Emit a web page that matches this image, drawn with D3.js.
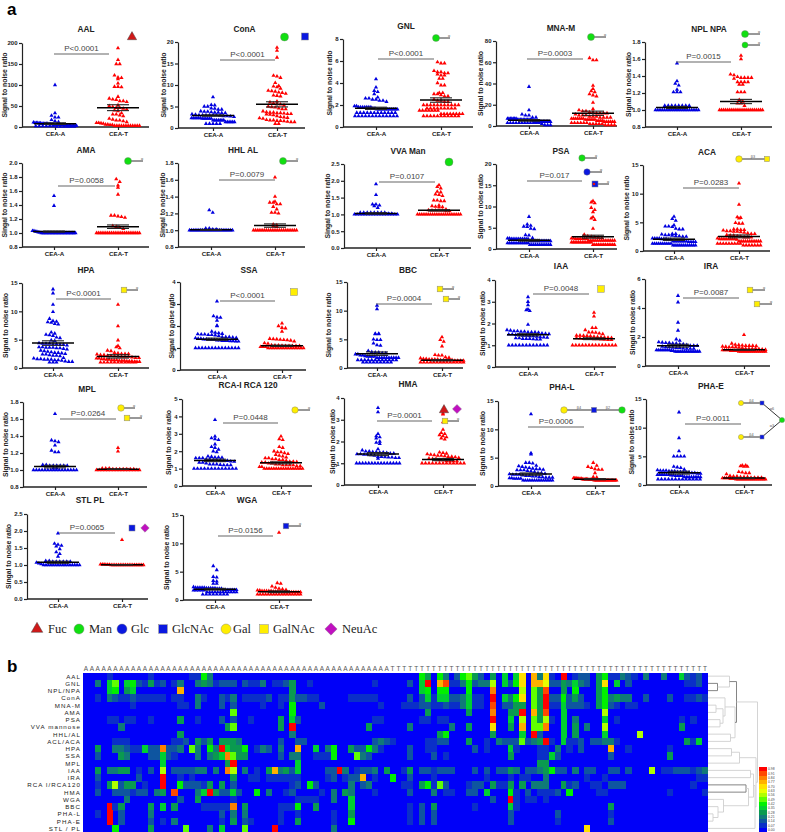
<!DOCTYPE html>
<html><head><meta charset="utf-8">
<script src="https://cdn.jsdelivr.net/npm/d3@7"></script>
<style>html,body{margin:0;padding:0;background:#fff}svg{display:block}text{font-family:"Liberation Sans",Arial,sans-serif}</style>
</head><body><svg id="c" width="785" height="832"></svg>
<script>
// ---------- swarm values ----------
const groups=['CEA-A','CEA-T'];
const aalA=[100,33,27,23,23,17,14,12,11,10,10,10,9,9,8,8,8,8,8,7,7,7,6,6,6,5,5,5,5,5,4,4,4,4,4,3,3,3,3,2,2,2,2,2,2,1,1,1,1,1,1];
const aalT=[188,160,150,150,123,118,117,114,104,96,96,95,72,68,66,65,62,62,60,52,50,48,46,46,44,42,40,38,33,30,30,28,26,20,18,16,16,14,12,10,10,9,8,6,6,5,5,3,3,3,3,3,3,3,3,3,3,3,3];
const conA=[7.2,5.4,5.3,5,5,4.6,4.5,4.3,4.3,3.9,3.8,3.8,3.7,3.6,3.6,3.5,3.5,3.2,3.1,3,3,3,3,3,3,2.9,2.8,2.8,2.7,2.6,2.3,2.3,2.3,2.3,2.3,2.3,2.2,2.2,2.2,2.2,2.2,2.2,1.8,1.8,1.8,1.8,1.8,1.8,1.8,1.4,1.4,1.4,1.4,1.4,1.4,1,1,1,1,1];
const conT=[18.7,18,16.4,12.2,12,11.7,10.5,9.8,9.7,9.5,9.2,8.7,8.6,8.5,8.3,8.2,8,7.6,7.5,7.4,6.2,6,5.8,5.6,5.5,5.3,5,4.9,4.8,4.6,4.4,4.4,3.9,3.7,3.6,3.6,3.5,3.5,3.4,3.3,3.3,3.2,3.1,3,2.8,2.6,2.5,2.4,2.3,2.2,1.9,1.8,1.8,1.7,1.7,1.6,1.5,1.4,1.4,1,1];
const gnlA=[4.35,3.6,3.3,3.2,3,2.7,2.6,2.6,2.5,2.5,2.4,2.4,2.3,1.9,1.9,1.8,1.8,1.8,1.8,1.8,1.8,1.8,1.7,1.7,1.6,1.6,1.6,1.6,1.6,1.6,1.6,1.6,1.6,1.6,1.6,1.3,1.3,1.3,1.3,1.3,1.3,1.3,1.3,1.3,1.3,1.3,1.3,1,1,1,1,1,1,1,1,1,1,1,1,1];
const gnlT=[5.9,5.8,5.8,5.1,5,5,4.9,4.9,4.8,4.7,4.7,4.4,4.4,4,3.8,3.8,3.1,3.1,3,3,2.9,2.8,2.8,2.5,2.4,2.4,2.3,2.3,2,2,2,2,2,2,2,2,2,2,2,1.7,1.7,1.7,1.7,1.7,1.7,1.7,1.7,1.7,1.5,1.5,1.5,1.5,1.5,1.5,1.5,1.2,1.2,1.2,1.2,1.2,1.2,1.2,1.2,1,1,1,1,1,1,1,1,1,1,1];
const mnaA=[37,15,11,10,10,8,8,7,7,7,7,7,7,7,6,6,6,6,6,6,6,6,6,6,6,5,4,4,4,4,4,4,4,4,4,4,4,4,3,3,3,3,3,3,3,3,3,3,3,3,2,1,1,1];
const mnaT=[64,62,62,38,35,33,32,30,29,28,22,16,15,14,14,13,13,12,12,12,12,11,10,10,10,9,9,9,8,8,8,8,7,7,7,7,7,7,7,6,6,6,6,6,6,5,5,5,5,4,4,4,4,4,4,3,3,3,3,3,3,2,2,2,2,2,1,1,1,1];
const npaA=[1.55,1.34,1.31,1.29,1.24,1.21,1.21,1.21,1.05,1.05,1.05,1.05,1.05,1.05,1.05,1.05,1.02,1.02,1.02,1.02,1,1,1,1,1,1,1,1,1,1,1,1,1,1,1,1,1,1,1,1];
const npaT=[1.64,1.6,1.42,1.41,1.39,1.38,1.38,1.38,1.38,1.37,1.33,1.33,1.33,1.33,1.21,1.21,1.21,1.3,1.3,1.12,1.1,1.08,1.08,1.05,1,1,1,1,1,1,1,1,1,1,1,1,1,1,1,1,1,1,1,1,1,1,1];
const amaA=[1.53,1.39,1.03,1.03,1.02,1.02,1.01,1.01,1,1,1,1,1,1,1,1,1,1,1,1,1,1,1,1,1,1,1,1,1,1,1,1];
const amaT=[1.77,1.73,1.68,1.65,1.55,1.25,1.25,1.24,1.23,1.22,1.1,1.09,1.08,1.06,1,1,1,1,1,1,1,1,1,1,1,1,1,1,1,1,1,1,1,1,1,1,1,1];
const hhlA=[1.24,1.21,1.02,1.02,1.01,1.01,1,1,1,1,1,1,1,1,1,1,1,1,1,1,1,1,1,1,1,1,1,1,1,1];
const hhlT=[1.63,1.4,1.34,1.33,1.33,1.31,1.31,1.28,1.25,1.21,1.21,1.2,1.07,1.06,1.05,1.04,1,1,1,1,1,1,1,1,1,1,1,1,1,1,1,1,1,1,1,1,1];
const vvaA=[1.9,1.58,1.3,1.3,1.27,1.25,1.2,1.05,1.05,1.05,1.05,1.05,1.05,1.05,1.05,1.02,1.02,1,1,1,1,1,1,1,1,1,1,1,1,1,1,1,1,1];
const vvaT=[1.87,1.82,1.78,1.68,1.66,1.6,1.58,1.55,1.42,1.42,1.4,1.4,1.25,1.27,1.23,1.22,1.22,1.15,1.13,1.12,1.12,1.12,1.12,1.1,1.1,1,1,1,1,1,1,1,1,1,1,1,1,1,1,1,1,1,1,1,1,1];
const psaA=[7.6,5.8,5.5,5.3,5.2,4.8,4.7,3.3,3.2,2.6,2.5,2.5,2.4,2.4,2.4,2.4,2.4,2.4,2.4,2.4,2.4,2.4,1.9,1.9,1.9,1.9,1.9,1.9,1.9,1.9,1.9,1.9,1.9,1.9,1.4,1.4,1.4,1.4,1.4,1.4,1.4,1.4,1.4,1.4,1.4,1.4,1,1,1,1,1,1,1,1,1,1,1,1];
const psaT=[11.3,11,10.8,9.7,9.2,8.7,7.5,7.2,6.9,4.8,3.4,3,2.9,2.8,2.7,2.6,2.5,2.5,2.4,2.4,2.4,2.4,2.4,2.4,2,2,2,2,2,2,2,2,2,2,2,2,2,1.6,1.6,1.6,1.6,1.6,1.6,1.6,1.6,1.6,1.6,1.6,1.6,1,1,1,1,1,1,1,1,1,1,1,1,1];
const acaA=[6,5.6,5.3,4.5,4.3,4.3,4.2,3.9,3.8,3.8,3,3,2.9,2.8,2.8,2.7,2.6,2.6,2.5,2.5,2.2,2.2,2.2,2.2,2.1,2.1,2.1,2,2,1.7,1.7,1.7,1.7,1.7,1.7,1.7,1.6,1.6,1.6,1.6,1.3,1.3,1.3,1.3,1.3,1.3,1.3,1.3,1.3,1.3,1,1,1,1,1,1,1,1,1,1,1,1];
const acaT=[11.8,8.1,5.9,5.8,5.7,4.9,4.8,4.8,3.8,3.8,3.7,3.7,3.6,3.5,3.5,3.4,3.4,3.3,3.2,3.1,3,3,2.8,2.7,2.7,2.6,2.5,2.4,2.4,2.4,2.2,2.1,2.1,2.1,2.1,2.1,2.1,2.1,2.1,2,1.7,1.7,1.7,1.7,1.7,1.7,1.7,1.7,1.7,1.7,1.7,1.3,1.3,1.3,1.3,1.3,1.3,1.3,1.3,1.3,1,1,1,1,1,1,1];
const hpaA=[13.9,13.2,11.2,9.9,8.7,8.3,8.2,8.1,8,7.8,7.7,6.3,6.1,5.9,5.8,5.7,5.4,5.3,4.9,4.8,4.4,4.3,4.3,4.3,4.2,4.2,4.1,4.1,4,3.7,3.7,3.6,3.6,3.6,3.5,3.5,3.4,3.3,3.1,3,2.9,2.8,2.7,2.7,2.6,2.5,2.4,2.4,2.3,2.2,2.2,2.1,1.8,1.7,1.6,1.6,1.5,1.5,1.5,1.4,1.4,1.3,1.2,1.1,1.1,1,1,1];
const hpaT=[11.2,7.4,4.9,3.9,3.7,3.5,3.1,3,2.7,2.6,2.5,2.5,2.5,2.4,2.3,2.3,2.2,2.2,2.1,2.1,2,2,2,1.9,1.8,1.8,1.7,1.7,1.6,1.6,1.5,1.5,1.4,1.4,1.4,1.3,1.3,1.3,1.2,1.2,1.2,1.1,1.1,1.1,1,1,1,1,1,1,1,1,1,1,1];
const ssaA=[3.12,2.45,2.4,2.38,2.25,2.02,2,1.75,1.7,1.68,1.65,1.63,1.62,1.62,1.6,1.6,1.58,1.55,1.5,1.5,1.5,1.48,1.46,1.45,1.43,1.43,1.4,1.4,1.38,1.37,1.37,1.35,1.35,1.33,1.33,1.33,1.32,1.32,1.3,1.3,1,1,1,1,1,1,1,1,1,1,1,1,1,1];
const ssaT=[2.12,2,1.92,1.9,1.75,1.42,1.41,1.4,1.38,1.37,1.36,1.34,1.3,1.22,1.2,1.13,1.12,1.12,1.11,1.1,1.1,1.1,1.1,1.1,1.05,1.05,1.05,1,1,1,1,1,1,1,1,1,1,1,1,1,1,1];
const bbcA=[10.9,10.3,6,6,5.9,5.9,5,4.9,4.9,4.3,4,3.9,3,2.8,2.7,2.7,2.6,2.6,2.4,2.4,2.2,2.2,2.1,2,2,2,2,1.8,1.8,1.8,1.8,1.8,1.8,1.8,1.8,1.8,1.8,1.4,1.4,1.4,1.4,1.4,1.4,1.4,1.4,1.4,1.4,1.4,1.4,1,1,1,1,1,1,1,1,1];
const bbcT=[5.4,4.9,4.6,3.8,2.3,2.2,2.2,1.9,1.8,1.7,1.6,1.6,1.5,1.5,1.5,1.5,1.4,1.4,1.4,1.4,1.4,1.3,1.3,1.3,1.3,1,1,1,1,1,1,1,1,1,1,1,1,1,1];
const iaaA=[3.22,3,2.85,2.65,2.62,2.58,1.95,1.7,1.68,1.65,1.65,1.63,1.63,1.6,1.6,1.6,1.58,1.55,1.53,1.52,1.5,1.5,1.48,1.48,1.45,1.45,1.42,1.42,1.4,1.38,1.37,1.35,1.33,1.33,1.3,1.3,1.3,1.28,1.27,1.27,1,1,1,1,1,1,1,1,1,1,1,1];
const iaaT=[2.5,2.33,1.8,1.8,1.7,1.6,1.6,1.58,1.55,1.52,1.45,1.45,1.44,1.43,1.42,1.4,1.38,1.37,1.36,1.35,1.34,1.33,1.32,1.3,1.3,1.3,1.28,1.28,1.27,1.26,1.25,1.25,1,1,1,1,1,1,1,1,1,1,1,1,1,1];
const iraA=[4.85,4.4,3,2.45,1.85,1.75,1.65,1.62,1.6,1.6,1.55,1.55,1.5,1.5,1.45,1.4,1.4,1.4,1.35,1.3,1.3,1.28,1.25,1.25,1.22,1.2,1.2,1.2,1.1,1.1,1.1,1.1,1.1,1.1,1.1,1.1,1.05,1.05,1,1,1,1,1,1,1,1,1,1,1,1,1,1];
const iraT=[2.15,1.55,1.48,1.45,1.42,1.4,1.4,1.4,1.38,1.35,1.33,1.3,1.3,1.3,1.28,1.25,1.2,1.2,1.2,1.2,1.18,1.15,1.12,1.1,1.1,1.1,1.1,1.05,1.05,1.05,1.05,1,1,1,1,1,1,1,1,1,1,1,1,1,1];
const mplA=[1.66,1.35,1.34,1.33,1.29,1.23,1.21,1.21,1.06,1.06,1.05,1.05,1.05,1.05,1.05,1.05,1.02,1.02,1,1,1,1,1,1,1,1,1,1,1,1,1,1,1,1];
const mplT=[1.26,1.22,1.02,1.02,1.02,1.01,1.01,1.01,1.01,1.01,1.01,1.01,1,1,1,1,1,1,1,1,1,1,1,1,1,1,1,1];
const rcaA=[3.8,2.85,2.75,2.7,2.65,2.4,2.25,2.2,2.1,2,1.95,1.7,1.68,1.65,1.65,1.63,1.6,1.6,1.6,1.55,1.55,1.5,1.5,1.48,1.45,1.45,1.42,1.4,1.35,1.35,1.3,1.25,1.25,1.25,1.22,1.2,1.2,1.2,1,1,1,1,1,1,1,1,1,1,1,1,1];
const rcaT=[2.85,2.7,2.65,2.25,2.2,2,1.95,1.95,1.9,1.85,1.8,1.75,1.7,1.65,1.6,1.6,1.55,1.55,1.5,1.5,1.45,1.4,1.4,1.38,1.35,1.35,1.3,1.3,1.25,1.25,1.2,1.2,1.2,1.2,1.15,1.15,1.1,1.1,1,1,1,1,1,1,1,1,1,1,1,1,1,1,1,1,1];
const hmaA=[3.55,3.35,2.35,2.25,2.2,2.15,2,1.95,1.9,1.65,1.6,1.55,1.55,1.52,1.52,1.5,1.5,1.48,1.45,1.45,1.42,1.42,1.4,1.4,1.38,1.35,1.3,1.3,1.28,1.27,1.27,1.25,1.25,1.22,1,1,1,1,1,1,1,1,1,1,1,1,1,1,1];
const hmaT=[3.3,3.25,2.9,2.55,2.4,2.35,2.3,2.25,2.2,2.15,2.1,1.5,1.48,1.45,1.42,1.4,1.38,1.35,1.35,1.33,1.3,1.3,1.28,1.25,1.22,1.2,1.2,1.15,1.15,1.1,1.1,1.1,1.1,1,1,1,1,1,1,1,1,1,1,1,1,1];
const phlA=[12.7,5.8,5.6,4.1,4.1,4,3.6,3.5,3.4,3.3,3.2,3.1,3,3,2.9,2.8,2.8,2.8,2.7,2.6,2.5,2.3,2.3,2.2,2.1,2,2,2,1.9,1.8,1.8,1.7,1.7,1.6,1.6,1.5,1.5,1.5,1.4,1.4,1.3,1.3,1.3,1.3,1,1,1,1,1,1,1,1,1,1,1,1,1,1];
const phlT=[4.1,3.6,3.4,3.2,3,2.9,2.9,2.3,1.6,1.5,1.4,1.4,1.4,1.3,1.3,1.3,1.3,1.2,1.2,1.2,1.2,1.2,1.1,1.1,1.1,1.1,1,1,1,1,1,1,1,1,1,1,1,1,1,1,1,1,1,1];
const pheA=[12.7,8.2,5.9,5,5,5,5,3.2,3.1,3,2.7,2.6,2.5,2.5,2.5,2.4,2.4,2.4,2.3,2.3,2.2,2.2,2.2,2.1,2.1,2,2,1.8,1.8,1.8,1.8,1.8,1.8,1.7,1.7,1.6,1.6,1.6,1.6,1.4,1.4,1.4,1.4,1.4,1.4,1.4,1.4,1,1,1,1,1,1,1,1,1,1,1,1,1];
const pheT=[3.4,3.4,3.3,3.2,3.2,2.3,2.2,2.1,2.1,1.9,1.6,1.5,1.5,1.4,1.4,1.4,1.3,1.3,1.3,1.3,1.2,1.2,1.2,1.2,1.1,1.1,1.1,1,1,1,1,1,1,1,1,1,1,1,1,1,1,1,1];
const stlA=[1.93,1.63,1.6,1.57,1.55,1.47,1.38,1.33,1.25,1.12,1.12,1.1,1.1,1.1,1.1,1.1,1.1,1.07,1.05,1.03,1,1,1,1,1,1,1,1,1,1,1,1,1,1,1,1];
const stlT=[1.74,1.02,1.02,1.02,1.01,1.01,1.01,1,1,1,1,1,1,1,1,1,1,1,1,1,1,1,1,1,1,1];
const wgaA=[6,5.3,4.1,4,3.4,3.3,2.9,2.9,2.3,2.2,2.2,2.2,2.2,2.2,2.1,2.1,2.1,2.1,2.1,2,2,2,1.8,1.8,1.8,1.8,1.8,1.8,1.8,1.7,1.7,1.7,1.7,1.7,1.4,1.4,1.4,1.4,1.4,1.4,1.4,1.4,1.4,1.4,1.4,1.4,1,1,1,1,1,1,1,1];
const wgaT=[11.9,3,2.9,2.4,2.2,2,1.9,1.8,1.7,1.7,1.6,1.6,1.6,1.6,1.6,1.5,1.5,1.5,1.5,1.4,1.4,1.4,1.4,1.4,1.4,1.4,1.4,1.4,1,1,1,1,1,1,1,1,1,1,1,1,1,1,1,1,1];

// group means and standard errors: [mean A, sem A, mean T, sem T]
const meanSem={AAL:[8,2,46,7],ConA:[2.9,.15,5.5,.6],GNL:[1.7,.1,2.45,.2],'MNA-M':[5.3,.8,12,2],'NPL NPA':[1.03,.012,1.1,.025],AMA:[1.02,.008,1.09,.025],'HHL AL':[1.005,.005,1.055,.02],'VVA Man':[1.03,.02,1.12,.02],PSA:[2.05,.2,2.9,.35],ACA:[2.05,.2,2.55,.25],HPA:[4.4,.4,2.05,.3],SSA:[1.4,.05,1.1,.03],BBC:[2.5,.3,1.35,.1],IAA:[1.48,.05,1.3,.04],IRA:[1.4,.1,1.12,.03],MPL:[1.04,.015,1.01,.004],'RCA-I RCA 120':[1.47,.07,1.33,.06],HMA:[1.42,.07,1.17,.05],'PHA-L':[2.1,.2,1.2,.1],'PHA-E':[2.15,.25,1.2,.1],'STL PL':[1.08,.03,1.005,.005],WGA:[1.9,.15,1.45,.15]};

// panel table: title, values, y domain, y ticks, p text, y label
const panelData=[
['AAL',aalA,aalT,[0,200],[0,50,100,150,200],'P<0.0001','Signal'],
['ConA',conA,conT,[0,20],[0,5,10,15,20],'P<0.0001','Signal'],
['GNL',gnlA,gnlT,[0,8],[0,2,4,6,8],'P<0.0001','Signal'],
['MNA-M',mnaA,mnaT,[0,80],[0,20,40,60,80],'P=0.0003','Signal'],
['NPL NPA',npaA,npaT,[.8,1.8],[.8,1,1.2,1.4,1.6,1.8],'P=0.0015','Signal'],
['AMA',amaA,amaT,[.8,2],[.8,1,1.2,1.4,1.6,1.8,2],'P=0.0058','Singal'],
['HHL AL',hhlA,hhlT,[.8,1.8],[.8,1,1.2,1.4,1.6,1.8],'P=0.0079','Singal'],
['VVA Man',vvaA,vvaT,[0,2.5],[0,.5,1,1.5,2,2.5],'P=0.0107','Singal'],
['PSA',psaA,psaT,[0,20],[0,5,10,15,20],'P=0.017','Signal'],
['ACA',acaA,acaT,[0,15],[0,5,10,15],'P=0.0283','Signal'],
['HPA',hpaA,hpaT,[0,15],[0,5,10,15],'P<0.0001','Signal'],
['SSA',ssaA,ssaT,[0,4],[0,1,2,3,4],'P<0.0001','Signal'],
['BBC',bbcA,bbcT,[0,15],[0,5,10,15],'P=0.0004','Signal'],
['IAA',iaaA,iaaT,[0,4],[0,1,2,3,4],'P=0.0048','Singal'],
['IRA',iraA,iraT,[0,6],[0,2,4,6],'P=0.0087','Singal'],
['MPL',mplA,mplT,[.8,1.8],[.8,1,1.2,1.4,1.6,1.8],'P=0.0264','Signal'],
['RCA-I RCA 120',rcaA,rcaT,[0,5],[0,1,2,3,4,5],'P=0.0448','Signal'],
['HMA',hmaA,hmaT,[0,4],[0,1,2,3,4],'P=0.0001','Signal'],
['PHA-L',phlA,phlT,[0,15],[0,5,10,15],'P=0.0006','Signal'],
['PHA-E',pheA,pheT,[0,15],[0,5,10,15],'P=0.0011','Signal'],
['STL PL',stlA,stlT,[0,2.5],[0,.5,1,1.5,2,2.5],'P=0.0065','Singal'],
['WGA',wgaA,wgaT,[0,15],[0,5,10,15],'P=0.0156','Signal']];

// ---------- heat map values: "column:level" (level is hex; 14 levels of 0.07) ----------
const heatRowNames=['AAL','GNL','NPL/NPA','ConA','MNA-M','AMA','PSA','VVA mannose','HHL/AL','ACL/ACA','HPA','SSA','MPL','IAA','IRA','RCA I/RCA120','HMA','WGA','BBC','PHA-L','PHA-E','STL / PL'];
const heatCells=[
"4:1 11:1 18:1 19:1 20:6 21:3 57:6 58:4 60:6 61:3 63:2 64:6 65:7 66:4 67:2 69:4 71:5 73:5 74:a 76:b 77:3 78:a 79:1 81:e 83:1 84:2 85:2 87:4 88:6 89:1 90:1 91:3 92:2 93:1 95:3 98:3 101:5 102:2 103:1 104:2",
"2:3 4:5 5:7 7:5 8:6 9:2 10:1 11:4 12:1 13:2 15:1 16:3 19:3 20:4 21:3 22:1 23:2 24:2 25:2 27:2 28:1 29:1 30:3 32:1 33:1 34:2 35:4 38:1 49:1 55:2 57:5 58:e 60:b 61:d 62:1 63:1 64:3 65:6 66:2 67:3 68:3 69:8 71:5 72:2 73:6 74:a 76:b 77:b 78:9 79:2 80:2 81:4 82:3 83:5 84:3 85:2 87:4 88:a 90:5 92:2 102:1 103:1 104:2",
"4:5 5:6 7:4 8:5 16:b 35:4 57:5 58:6 60:6 61:6 65:6 69:c 74:8 76:7 77:4 78:d 81:4 83:6 87:4 88:6",
"2:1 4:3 5:2 6:1 7:1 8:2 9:1 10:1 11:1 12:1 13:1 15:1 16:1 19:3 20:1 23:2 24:1 25:3 27:1 28:1 29:1 30:1 31:2 33:1 34:1 35:4 36:2 37:2 38:1 39:1 45:1 46:1 47:1 48:1 49:1 55:2 57:2 58:5 59:1 60:5 61:5 62:2 63:2 64:3 65:5 66:1 67:1 69:e 71:5 72:3 73:6 74:a 76:7 77:4 78:e 79:2 80:2 81:6 82:2 83:4 84:2 87:4 88:6 89:3 90:4 91:3 92:3 95:2 99:2 102:1 103:1 104:2 105:1",
"8:1 16:1 17:1 19:3 23:2 25:2 30:1 33:1 35:6 40:2 50:1 54:1 55:1 56:1 57:2 58:2 59:1 60:1 61:2 62:1 63:1 64:3 65:5 66:1 67:1 69:d 71:2 72:2 73:4 74:4 76:7 77:4 78:e 79:1 80:1 81:5 82:2 83:2 84:2 85:1 87:4 88:6 89:2 90:1 92:1 93:1",
"25:7 35:6 58:4 65:4 69:c 72:4 73:4 74:e 76:b 77:4 78:d 81:5 88:8",
"4:1 5:1 7:1 8:1 11:1 16:4 19:1 23:2 25:2 28:1 33:4 35:5 36:2 49:1 50:1 57:1 58:1 60:1 61:1 69:e 72:5 74:8 76:7 77:4 78:8 79:1 81:5 83:3 88:5 90:1 101:1 103:1",
"6:3 24:4 25:7 33:4 35:e 48:4 55:3 62:3 65:4 69:a 72:4 74:b 76:7 77:7 78:c 81:5 83:4 85:3 88:8 101:4",
"16:4 35:3 60:4 61:6 69:4 74:5 76:e 77:2 81:5 83:4 88:5 94:8",
"5:1 6:1 7:1 15:1 16:1 17:2 19:4 20:2 21:4 23:4 24:4 25:4 26:3 33:2 36:2 37:2 49:2 50:3 51:2 52:1 58:1 59:1 60:2 61:2 65:4 68:1 70:3 71:2 72:2 73:2 74:7 75:2 76:3 77:4 78:e 79:1 81:5 82:1 83:1 84:2 86:2 87:2 88:3 89:3 90:1 102:4 103:1 104:5",
"2:4 5:3 6:3 7:2 8:1 9:1 10:5 11:2 12:2 13:c 14:2 15:2 16:3 18:7 19:3 21:6 22:3 23:e 24:5 25:4 26:4 27:6 29:1 30:3 31:2 33:3 36:b 39:5 41:3 42:6 45:4 46:2 47:2 48:6 49:3 50:1 55:2 58:1 59:1 66:2 68:1 72:5 73:1 77:1 78:1 80:3 82:1 84:2 89:b 92:1 99:1",
"2:2 6:4 7:3 11:2 12:2 13:5 14:2 15:1 19:3 21:3 22:4 23:5 24:c 25:7 26:4 27:4 33:2 35:3 36:3 39:1 40:1 41:1 42:6 46:7 47:3 48:2 55:2 59:2 61:1 72:4 77:1 78:1 79:5 80:2 89:2 99:4",
"13:5 24:4 25:e 36:5 77:4 78:4",
"2:4 4:3 5:3 6:4 7:4 9:1 11:2 13:8 15:2 16:2 17:2 18:2 19:3 20:3 22:3 24:c 25:8 27:3 29:1 31:4 32:b 33:3 34:4 35:2 36:5 41:2 42:2 43:e 44:3 46:1 47:2 48:2 49:3 51:4 54:1 55:4 57:2 58:2 59:1 60:2 61:2 62:2 66:2 68:2 70:2 71:2 72:4 73:3 75:2 76:2 77:3 78:4 79:6 80:2 81:2 83:3 85:2 86:2 89:2 90:2 92:2 96:8 98:1 99:1 100:2 101:2 102:2 103:1 104:2 105:3",
"2:2 9:2 13:e 16:1 18:1 25:4 28:1 29:1 31:1 32:1 33:1 34:1 35:1 36:1 41:1 42:2 44:1 45:2 46:2 47:b 49:1 52:6 55:2 59:1 68:1 72:1 74:1 75:1 78:3 85:1 88:1 104:1 105:1",
"2:1 4:4 5:8 6:2 7:4 8:4 10:1 13:e 16:6 17:2 18:2 19:2 20:1 21:4 23:4 25:2 35:1 36:2 38:6 39:2 45:3 47:2 48:3 54:1 55:1 57:4 58:6 59:1 60:7 61:2 65:1 66:2 67:2 69:4 70:1 71:1 72:4 74:4 76:3 77:3 78:3 81:4 82:1 83:2 86:1 87:1 89:2 90:2 91:2 103:1",
"2:2 5:2 6:2 7:2 8:1 9:2 10:2 12:3 13:4 15:d 19:3 20:5 21:e 22:4 23:2 24:2 25:5 26:2 29:6 31:3 34:1 35:2 40:1 42:3 44:4 45:3 49:1 55:2 59:3 61:1 62:1 65:2 66:2 68:5 72:6 73:1 75:2 77:1 78:1 79:1 80:2 82:6 87:1 88:1 99:1 105:1",
"7:3 16:2 19:4 25:1 36:1 37:1 38:1 39:1 42:3 45:5 69:2 72:e 73:1 75:1 76:1 78:1",
"4:e 5:1 6:4 11:4 13:5 15:4 20:1 21:1 22:1 23:1 24:1 25:c 27:4 33:1 34:1 35:1 36:6 39:4 45:5 55:1 57:2 59:4 66:1 72:5 73:1 89:4",
"2:1 4:e 6:2 11:3 23:2 25:3 27:3 33:1 36:1 42:1 45:4 55:1 57:2 59:2 72:2 80:2 89:1",
"4:e 6:2 11:2 13:1 15:3 23:1 25:4 27:2 28:1 33:1 36:4 42:1 45:6 55:1 57:2 59:2 72:2 80:1 89:2",
"5:6 11:4 17:7 21:3 23:5 27:7 32:e 42:3 85:a"];
const heatColumns=d3.range(106);
const firstT=52;
const levelColors=['#0000f8','#0a2fc8','#0e55a0','#107a78','#0a9a50','#00d030','#00f000','#60ff00','#b0ff00','#e8ff00','#ffe000','#ffb000','#ff8000','#ff4800','#ff0000'];
const legendLabels=['0.98','0.91','0.84','0.77','0.70','0.63','0.56','0.49','0.42','0.35','0.28','0.21','0.14','0.07','0.00'];
// dendrogram merges: [height, child, child], a number is a heat-map row
const dendroTree=[.99,[.57,[.43,0,[.19,1,2]],[.54,[.34,3,[.3,[.16,4,5],[.24,6,7]]],[.45,8,9]]],[.96,[.63,[.47,10,11],12],[.94,[.91,[.85,13,14],[.81,[.76,15,16],[.31,17,[.2,18,[.1,19,20]]]]],21]]];
const sugars=['Fuc','Man','Glc','GlcNAc','Gal','GalNAc','NeuAc'];
const sugarKind={Fuc:'tri',Man:'cir',Glc:'cir',GlcNAc:'sq',Gal:'cir',GalNAc:'sq',NeuAc:'dia'};
const sugarColor={Fuc:'#d01818',Man:'#10e010',Glc:'#0a18e0',GlcNAc:'#0a18e0',Gal:'#ffee00',GalNAc:'#ffee00',NeuAc:'#c010c0'};

// ---------- layout ----------
// titleX,titleY, axisL,axisR, yTop,yBot, xA,xT, brL,brR,brY, labelX
const geom=[
[86,32,22,149,43,127,55,118,54,109,54,4],[244.5,32,178,305,42,128,213,277,220,275,60,163],[406,29,343,473,39,127,376,441,378,434,59,329],[561,31,496,617,41,126,529,593,527,583,59,480],[709,32,645,772,42,127,677,741,676,731,62,628],
[86,153,22,149,163,247,54,118,58,115,186,4],[243,153,178,305,163,247,211,275,219,275,180,162],[408,154,344,471,164,248,376,439,379,435,182,327],[561,154,496,617,164,249,529,593,527,582,181,480],[707,155,643,770,165,251,674,739,683,739,188,626],
[86,273,22,149,283,368,53,118,56,111,299,5],[249,273,180,306,282,370,217,282,220,275,301,171],[408,273,347,463,282,368,377,442,376,432,304,328],[561,269,495,616,280,367,528,594,533,589,294,482],[711,269,645,770,279,366,678,744,683,739,298,632],
[87,392,23,147,402,487,55,118,60,116,419,5],[248,388,182,312,399,486,215,281,223,278,423,168],[408,387,344,476,398,485,378,443,377,432,421,332],[562,390,498,620,401,486,531,595,528,584,427,482],[711,389,646,772,399,485,679,744,685,741,424,631],
[90,503,27,148,514,599,58,122,59,115,533,8],[247,503,183,312,515,600,215,279,218,273,536,166]];

const svg=d3.select('#c');
const tri=d3.symbol().type(d3.symbolTriangle);
const dots=d3.symbol().type(d3.symbolTriangle).size(7.5)();

function swarm(vals,y,cx){
  const bins=d3.groups(vals,v=>Math.round(y(v)/4));
  const out=[];
  bins.forEach(([,vs])=>{
    const sp=Math.min(3.5,vs.length>1?43/(vs.length-1):3.5);
    vs.forEach((v,i)=>out.push({v,x:cx+(i-(vs.length-1)/2)*sp}));
  });
  return out;
}

panelData.forEach((p,i)=>{
  const [name,a,t,dom,ticks,pt,lab]=p;
  const [tx,ty,aL,aR,yT,yB,xA,xT,bL,bR,bY,lX]=geom[i];
  const g=svg.append('g');
  const y=d3.scaleLinear().domain(dom).range([yB,yT]);
  const x=d3.scalePoint().domain(groups).range([xA,xT]);
  const fmt=ticks.some(v=>v%1!==0)?d3.format('.1f'):d3.format('d');
  const ya=g.append('g').attr('transform',`translate(${aL},0)`).call(d3.axisLeft(y).tickValues(ticks).tickFormat(fmt).tickSize(3).tickPadding(1.5).tickSizeOuter(0));
  ya.selectAll('text').attr('font-size',6).attr('font-weight','bold').attr('fill','#222').style('font-family','"Liberation Sans"');
  ya.selectAll('path,line').attr('stroke','#222').attr('stroke-width',1.2);
  const xa=g.append('g').attr('transform',`translate(0,${yB})`).call(d3.axisBottom(x).tickSize(3).tickPadding(2).tickSizeOuter(0));
  xa.select('path').remove();
  xa.selectAll('text').attr('font-size',6.2).attr('font-weight','bold').attr('fill','#222').style('font-family','"Liberation Sans"');
  xa.selectAll('line').attr('stroke','#222').attr('stroke-width',1.2);
  g.append('line').attr('x1',aL).attr('x2',aR).attr('y1',yB).attr('y2',yB).attr('stroke','#222').attr('stroke-width',1.4);
  g.append('text').attr('x',tx).attr('y',ty).attr('text-anchor','middle').attr('font-size',8.3).attr('font-weight','bold').attr('fill','#222').text(name);
  g.append('text').attr('transform',`translate(${lX+2.5},${(yT+yB)/2}) rotate(-90)`).attr('text-anchor','middle').attr('font-size',6.8).attr('font-weight','bold').attr('fill','#222').text(lab+' to noise ratio');
  // points
  [[a,groups[0],'#0000e0'],[t,groups[1],'#ff0000']].forEach(([vals,gr,col])=>{
    g.append('g').selectAll('path').data(swarm(vals,y,x(gr))).join('path')
      .attr('d',dots).attr('fill',col).attr('transform',d=>`translate(${d.x},${y(d.v)})`);
  });
  // mean and sem
  const ms=meanSem[name];
  groups.forEach((gr,k)=>{
    const m=ms[k*2],s=ms[k*2+1],c=x(gr);
    g.append('line').attr('x1',c-21).attr('x2',c+21).attr('y1',y(m)).attr('y2',y(m)).attr('stroke','#000').attr('stroke-width',1.5);
    [m-s,m+s].forEach(v=>g.append('line').attr('x1',c-11).attr('x2',c+11).attr('y1',y(v)).attr('y2',y(v)).attr('stroke','#222').attr('stroke-width',1.1));
    g.append('line').attr('x1',c).attr('x2',c).attr('y1',y(m-s)).attr('y2',y(m+s)).attr('stroke','#222').attr('stroke-width',1);
  });
  // significance bracket
  g.append('line').attr('x1',bL).attr('x2',bR).attr('y1',bY).attr('y2',bY).attr('stroke','#666').attr('stroke-width',1.1);
  g.append('text').attr('x',(bL+bR)/2).attr('y',bY-3).attr('text-anchor','middle').attr('font-size',8).attr('fill','#444').text(pt);
});

// ---------- glycan glyphs ----------
function glyph(parent,kind,x,y,col,r){
  const G=parent.append('g').attr('transform',`translate(${x},${y})`);
  if(kind==='cir')G.append('circle').attr('r',r).attr('fill',col).attr('stroke','#777').attr('stroke-width',.4);
  if(kind==='sq')G.append('rect').attr('x',-r).attr('y',-r).attr('width',2*r).attr('height',2*r).attr('fill',col).attr('stroke','#888').attr('stroke-width',.5);
  if(kind==='tri')G.append('path').attr('d',tri.size(r*r*2.6)()).attr('fill',col).attr('stroke','#444').attr('stroke-width',.5);
  if(kind==='dia')G.append('rect').attr('x',-r*.75).attr('y',-r*.75).attr('width',1.5*r).attr('height',1.5*r).attr('transform','rotate(45)').attr('fill',col).attr('stroke','#888').attr('stroke-width',.4);
}
function bond(x1,y1,x2,y2,label){
  svg.append('line').attr('x1',x1).attr('y1',y1).attr('x2',x2).attr('y2',y2).attr('stroke','#333').attr('stroke-width',1);
  if(label)svg.append('text').attr('x',(x1+x2)/2).attr('y',(y1+y2)/2-1.5).attr('text-anchor','middle').attr('font-size',3.8).attr('fill','#555').text(label);
}
function stub(sugar,x,y,len,r){
  bond(x,y,x+len,y);
  svg.append('text').attr('x',x+len-2).attr('y',y-1.5).attr('font-size',3.8).attr('fill','#555').text('α');
  glyph(svg,sugarKind[sugar],x,y,sugarColor[sugar],r);
}
// single glyphs: sugar,x,y,r
[['Fuc',132,37,3.8],['Man',284.5,37,4],['GlcNAc',305,36.5,3.5],['Man',449,162,4],['GalNAc',294,292,3.5],['GalNAc',601,289,3.3],['Fuc',444,410,3.8],['NeuAc',457,409,4.3],['GlcNAc',132,528,3],['NeuAc',145,528,4]]
 .forEach(d=>glyph(svg,sugarKind[d[0]],d[1],d[2],sugarColor[d[0]],d[3]));
// glyphs with a linkage stub: sugar,x,y,len,r
[['Man',436,38,14,3.5],['Man',591,37,15,3.5],['Man',745,34,15,3.5],['Man',745,45,15,3],['Man',128,161,15,3.5],['Man',283,161,15,3.5],['Man',582,158,15,3.2],['Glc',587,172,15,3.2],['GlcNAc',595,184,14,3],['GalNAc',124,290,14,2.8],['GalNAc',440,289,14,2.8],['GalNAc',446,299,14,2.8],['GalNAc',750,290,15,2.8],['GalNAc',757,304,15,2.8],['Gal',121,408,14,3.3],['GalNAc',127,418,15,2.8],['Gal',295,410,15,3.2],['GalNAc',445,421,14,2.8],['GlcNAc',286,526,15,2.8]]
 .forEach(d=>stub(d[0],d[1],d[2],d[3],d[4]));
svg.append('circle').attr('cx',594).attr('cy',184).attr('r',1.3).attr('fill','#e01010');
// ACA
bond(739,159,767,159,'β3');glyph(svg,'cir',739,159,'#ffee00',3.3);glyph(svg,'sq',767,159,'#ffee00',2.6);
// PHA-L
bond(564,410,594,410,'β4');bond(594,410,622,410,'β2');glyph(svg,'cir',564,410,'#ffee00',3.3);glyph(svg,'sq',594,410,'#0a18e0',2.6);glyph(svg,'cir',622,410,'#10e010',3.3);
// PHA-E
bond(741,403,762,403,'β4');bond(741,437,762,437,'β4');bond(762,403,782,420,'α6');bond(762,437,782,420,'α3');
[[741,403],[741,437]].forEach(d=>glyph(svg,'cir',d[0],d[1],'#ffee00',2.6));
[[762,403],[762,437]].forEach(d=>glyph(svg,'sq',d[0],d[1],'#0a18e0',2));
glyph(svg,'cir',782,420,'#10e010',2.6);

// ---------- sugar legend ----------
const legX={Fuc:[37,48],Man:[79,89],Glc:[122,131],GlcNAc:[163,172],Gal:[226,233],GalNAc:[264,273],NeuAc:[331,342]};
sugars.forEach(s=>{
  const k=sugarKind[s];
  glyph(svg,k,legX[s][0],629,sugarColor[s],k==='tri'?4.7:k==='dia'?5.8:k==='sq'?4.3:5);
  svg.append('text').attr('x',legX[s][1]).attr('y',633).attr('font-size',12.5).attr('fill','#222').style('font-family','"Liberation Serif"').text(s);
});

// panel letters
svg.append('text').attr('x',7).attr('y',15).attr('font-size',17).attr('font-weight','bold').text('a');
svg.append('text').attr('x',7).attr('y',672).attr('font-size',17).attr('font-weight','bold').text('b');

// ---------- heat map ----------
const hx=d3.scaleBand().domain(heatColumns).range([83,708]);
const hy=d3.scaleBand().domain(heatRowNames).range([672.5,832]);
const hc=d3.scaleOrdinal().domain(d3.range(15)).range(levelColors);
const hm=svg.append('g').attr('shape-rendering','crispEdges');
hm.append('rect').attr('x',83).attr('y',672.5).attr('width',625).attr('height',159.5).attr('fill',levelColors[0]);
heatCells.forEach((row,r)=>{
  const cells=row.split(' ').map(s=>{const [c,l]=s.split(':');return {c:+c,l:parseInt(l,16)};});
  hm.append('g').selectAll('rect').data(cells).join('rect')
    .attr('x',d=>hx(d.c)).attr('y',hy(heatRowNames[r])).attr('width',hx.bandwidth()+.3).attr('height',hy.bandwidth()+.3).attr('fill',d=>hc(d.l));
});
svg.append('g').selectAll('text').data(heatRowNames).join('text')
  .attr('x',81).attr('y',d=>hy(d)+hy.bandwidth()/2+2.4).attr('text-anchor','end').attr('font-size',6.2).attr('letter-spacing',1.05).attr('fill','#222').text(d=>d);
svg.append('g').selectAll('text').data(heatColumns).join('text')
  .attr('x',d=>hx(d)+hx.bandwidth()/2).attr('y',671).attr('text-anchor','middle').attr('font-size',6.5).attr('fill','#555')
  .text(d=>d<firstT?'A':'T');

// dendrogram
const dx=d3.scaleLinear().domain([0,1]).range([708,758]);
const darkHeights=[.19,.57,.76];
function dendro(n){
  if(typeof n==='number')return {y:hy(heatRowNames[n])+hy.bandwidth()/2,h:0};
  const [h,a,b]=n,A=dendro(a),B=dendro(b);
  const col=darkHeights.includes(h)?'#777':'#cfcfcf';
  const path=d3.path();
  path.moveTo(dx(A.h),A.y);path.lineTo(dx(h),A.y);path.lineTo(dx(h),B.y);path.lineTo(dx(B.h),B.y);
  svg.append('path').attr('d',path.toString()).attr('fill','none').attr('stroke',col).attr('stroke-width',.9);
  return {y:(A.y+B.y)/2,h};
}
dendro(dendroTree);

// colour key
const ky=d3.scaleBand().domain(legendLabels).range([767,832]);
svg.append('g').attr('shape-rendering','crispEdges').selectAll('rect').data(legendLabels).join('rect')
  .attr('x',759).attr('y',d=>ky(d)).attr('width',8).attr('height',ky.bandwidth()+.3).attr('fill',(d,i)=>levelColors[14-i]);
svg.append('g').selectAll('text').data(legendLabels).join('text')
  .attr('x',768).attr('y',d=>ky(d)+ky.bandwidth()/2+1.2).attr('font-size',3.4).attr('fill','#444').text(d=>d);
</script></body></html>
